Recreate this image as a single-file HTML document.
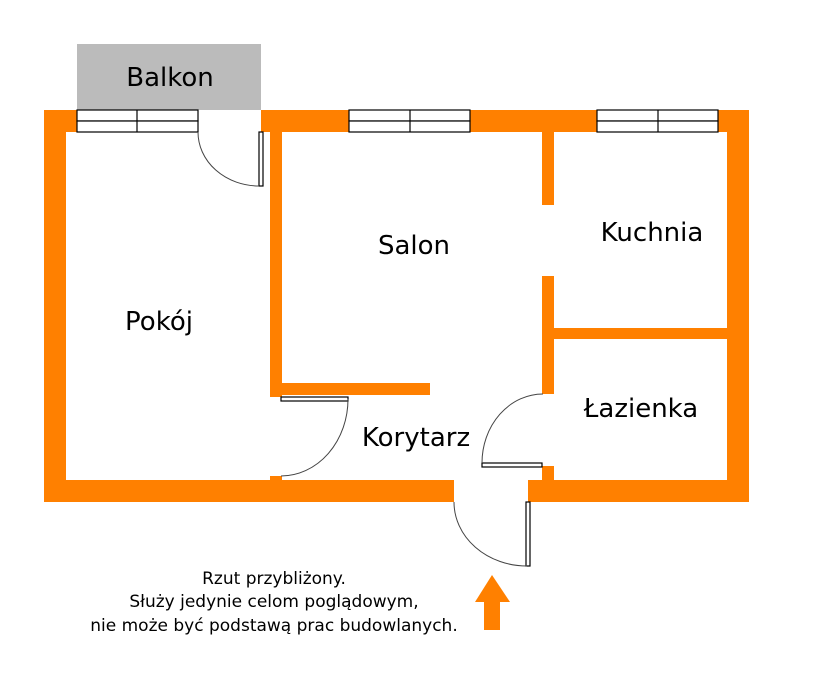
<!DOCTYPE html>
<html><head><meta charset="utf-8"><style>
html,body{margin:0;padding:0;background:#fff}
svg{display:block}
text{font-family:"DejaVu Sans","Liberation Sans",sans-serif}
</style></head><body>
<svg width="837" height="679" viewBox="0 0 837 679" xmlns="http://www.w3.org/2000/svg">
<rect x="77" y="44" width="184" height="66" fill="#bbbbbb"/>
<text x="170" y="86" font-size="26" text-anchor="middle" fill="#000">Balkon</text>
<g fill="#ff8000">
<rect x="44" y="110" width="33" height="22"/>
<rect x="44" y="110" width="22" height="392"/>
<rect x="261" y="110" width="88" height="22"/>
<rect x="470" y="110" width="127" height="22"/>
<rect x="718" y="110" width="31" height="22"/>
<rect x="727" y="110" width="22" height="392"/>
<rect x="44" y="480" width="410" height="22"/>
<rect x="528" y="480" width="221" height="22"/>
<rect x="270" y="132" width="12" height="265"/>
<rect x="270" y="383" width="160" height="12"/>
<rect x="270" y="476" width="12" height="6"/>
<rect x="542" y="132" width="12" height="73"/>
<rect x="542" y="276" width="12" height="118"/>
<rect x="542" y="328" width="185" height="11"/>
<rect x="542" y="466" width="12" height="16"/>
<rect x="484" y="600" width="16" height="30"/>
<polygon points="475,602 492,575 510,602"/>
</g>
<g fill="#fff" stroke="#000" stroke-width="1.2">
<rect x="77" y="110" width="121" height="11"/><rect x="77" y="121" width="121" height="11"/>
<line x1="137" y1="110" x2="137" y2="132"/>
<rect x="349" y="110" width="121" height="11"/><rect x="349" y="121" width="121" height="11"/>
<line x1="410" y1="110" x2="410" y2="132"/>
<rect x="597" y="110" width="121" height="11"/><rect x="597" y="121" width="121" height="11"/>
<line x1="658" y1="110" x2="658" y2="132"/>
<rect x="259" y="132" width="4" height="54"/>
<rect x="281" y="397" width="67" height="4"/>
<rect x="482" y="463" width="60" height="4"/>
<rect x="526" y="502" width="4" height="64"/>
</g>
<g fill="none" stroke="#444" stroke-width="1">
<path d="M198,132 A61,54 0 0 0 259,186"/>
<path d="M348,399 A67,77 0 0 1 281,476"/>
<path d="M543,394 A61,69 0 0 0 482,463"/>
<path d="M454,502 A73,64 0 0 0 527,566"/>
</g>
<g font-size="26" fill="#000" text-anchor="middle">
<text x="414" y="254">Salon</text>
<text x="652" y="241">Kuchnia</text>
<text x="159" y="330">Pokój</text>
<text x="641" y="417">Łazienka</text>
<text x="416" y="446">Korytarz</text>
</g>
<g font-size="17" fill="#000" text-anchor="middle">
<text x="274" y="584">Rzut przybliżony.</text>
<text x="274" y="607">Służy jedynie celom poglądowym,</text>
<text x="274" y="631">nie może być podstawą prac budowlanych.</text>
</g>
</svg>
</body></html>
